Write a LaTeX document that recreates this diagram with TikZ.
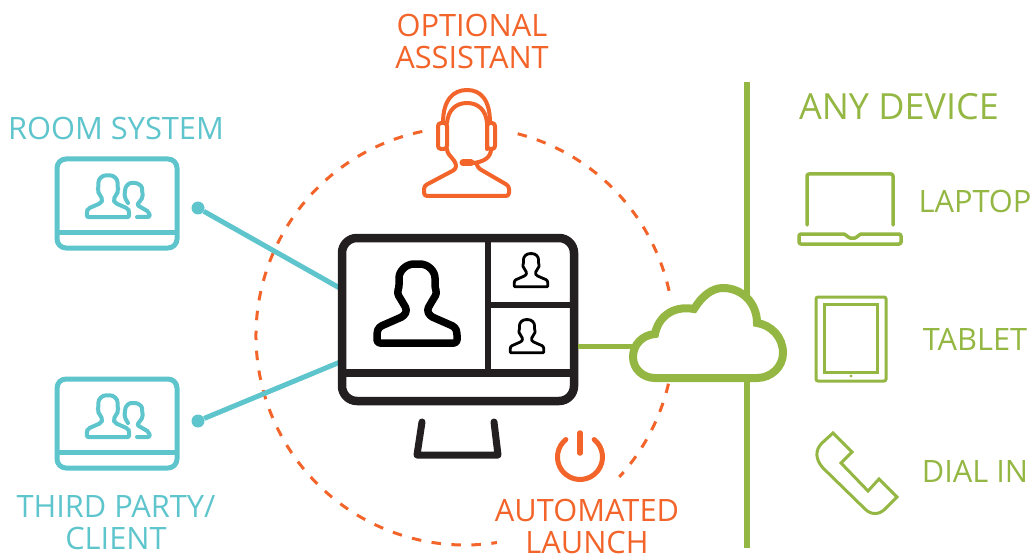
\documentclass[tikz,border=0pt]{standalone}
\usepackage{fontspec}
\setmainfont{Open Sans}
\usetikzlibrary{positioning}
\definecolor{tealc}{HTML}{5EC5CD}
\definecolor{orangec}{HTML}{F26429}
\definecolor{greenc}{HTML}{93B742}
\definecolor{darkc}{HTML}{231F20}
\newcommand{\personpath}{(18,-15) -- (20,-10) -- (14,0) -- (10,7) -- (13,13) -- (38,24) -- (40,29) -- (40,40) -- (-40,40) -- (-40,29) -- (-38,24) -- (-13,13) -- (-10,7) -- (-14,0) -- (-20,-10) -- (-18,-15) -- (-18,-22) .. controls (-18,-32) and (-11,-39) .. (0,-39) .. controls (11,-39) and (18,-32) .. (18,-22) -- cycle}
\newcommand{\roomicon}{%
    \draw[iconline, tealc, line width=5pt, rounded corners=9pt] (57,159) rectangle (177,248);
    \draw[tealc, line width=5pt] (57,232) -- (177,232);
    \draw[iconline, tealc, line width=4pt, rounded corners=2pt, shift={(108,196)}, scale=0.53] \personpath;
    \draw[iconline, tealc, line width=4pt, rounded corners=2pt] (128,203) -- (124.5,197) -- (125,190) .. controls (126,186) and (129,183) .. (133,183) .. controls (138,183) and (142,186) .. (142,190) -- (143,197) -- (137,205) -- (149,212) -- (150,217) -- (137,217);
}
\begin{document}
\begin{tikzpicture}[
        x=1pt, y=-1pt,
        iconline/.style={line cap=round, line join=round},
        caption/.style={align=center, font=\fontsize{30.8}{32}\selectfont, inner sep=0pt},
        ring/.style={orangec, line width=3pt, dash pattern=on 9.5pt off 10.5pt},
        link/.style={tealc, line width=5pt},
        dot/.style={circle, fill=tealc, minimum size=13pt, inner sep=0pt},
        screen/.style={draw=darkc, fill=white, line width=8.5pt, rounded corners=15pt, minimum width=232pt, minimum height=163pt}
    ]
    \useasboundingbox (0,0) rectangle (1033,556);

    % Dashed ring
    \coordinate (ringc) at (465,336);
    \draw[ring] (ringc) ++(75.4:209pt) arc[start angle=75.4, delta angle=-64.7, radius=209pt];
    \draw[ring] (ringc) ++(-13.2:209pt) arc[start angle=-13.2, delta angle=-29.2, radius=209pt];
    \draw[ring] (ringc) ++(101.8:209pt) arc[start angle=101.8, delta angle=177, radius=209pt];

    % Green axis
    \coordinate (axistop) at (747,82);
    \coordinate (axisbottom) at (747,548);
    \draw[greenc, line width=5.5pt] (axistop) -- (axisbottom);

    % Room systems
    \node[dot] (roomdot) at (198,208) {};
    \node[dot] (clientdot) at (198,421) {};
    \coordinate (screenup) at (345,291);
    \coordinate (screendown) at (345,360);
    \draw[link] (roomdot) -- (screenup);
    \draw[link] (clientdot) -- (screendown);
    \roomicon
    \begin{scope}[shift={(0,220)}]
        \roomicon
    \end{scope}
    \node[caption, text=tealc] (roomlabel) at (116,128) {ROOM SYSTEM};
    \node[caption, text=tealc] (clientlabel) at (116,522.5) {THIRD PARTY/\\CLIENT};

    % Monitor
    \node[screen] (monitor) at (458,319.5) {};
    \coordinate (cloudleft) at (635,346);
    \draw[greenc, line width=5pt] (monitor.east |- cloudleft) -- (cloudleft);
    \draw[darkc, line width=6.5pt] (488,238) -- (488,373);
    \draw[darkc, line width=6.5pt] (488,305) -- (574,305);
    \draw[darkc, line width=8pt] (342,373) -- (574,373);
    \draw[darkc, iconline, line width=7pt] (422,422) -- (417,455) -- (498,455) -- (494,422);
    \draw[iconline, black, line width=7.5pt, rounded corners=3pt, shift={(417,303)}] \personpath;
    \draw[iconline, black, line width=2.8pt, rounded corners=1pt, shift={(531,270)}, scale=0.42] \personpath;
    \draw[iconline, black, line width=2.8pt, rounded corners=1pt, shift={(527,336)}, scale=0.42] \personpath;

    % Assistant
    \draw[orangec, iconline, line width=4pt] (443,123) .. controls (443,100) and (453,90) .. (467,90) .. controls (481,90) and (490,100) .. (490,123);
    \draw[orangec, iconline, line width=4pt] (447,123) .. controls (448,110) and (456,103) .. (467,103) .. controls (478,103) and (486,110) .. (487,123) -- (487,149);
    \draw[orangec, iconline, line width=4pt, rounded corners=3pt] (438,123) rectangle (447,149);
    \draw[orangec, iconline, line width=4pt, rounded corners=3pt] (487,123) rectangle (495,149);
    \draw[orangec, iconline, line width=4pt, rounded corners=3pt] (447,149) -- (447,152) -- (456,163) -- (456,169) -- (424,186) -- (424,196) -- (509,196) -- (509,186) -- (478,168) -- (477,165);
    \draw[orangec, iconline, line width=4pt] (491,149) .. controls (491,158) and (483,162) .. (473,163);
    \draw[orangec, iconline, line width=7pt] (463,163) -- (471,163);
    \node[caption, text=orangec] (assistantlabel) at (472,41) {OPTIONAL\\ASSISTANT};

    % Power
    \draw[orangec, iconline, line width=5pt] (580,457) ++(51:22.5pt) arc[start angle=51, delta angle=-282, radius=22.5pt];
    \draw[orangec, iconline, line width=5.5pt] (580,433) -- (580,453);
    \node[caption, text=orangec] (launchlabel) at (587,526) {AUTOMATED\\LAUNCH};

    % Cloud
    \draw[greenc, fill=white, line width=8pt, line join=miter] (655,378) .. controls (643,378) and (633,369) .. (633,357) .. controls (633,345) and (642,335) .. (655,334) .. controls (658,318) and (672,305) .. (694,309) .. controls (702,296) and (712,288) .. (723,288) .. controls (742,288) and (757,303) .. (757,323) .. controls (771,325) and (783,337) .. (783,353) .. controls (783,367) and (771,378) .. (757,378) -- cycle;

    % Devices
    \node[font=\fontsize{36}{37}\selectfont, inner sep=0pt, text=greenc] (devicelabel) at (899,106.5) {ANY DEVICE};
    \draw[greenc, iconline, line width=3.5pt, rounded corners=2pt] (807,225) -- (807,174) -- (893,174) -- (893,225);
    \draw[greenc, iconline, line width=3.5pt, rounded corners=2pt] (799,234) -- (846,234) -- (848,238) -- (857,238) -- (859,234) -- (901,234) -- (901,244) -- (799,244) -- cycle;
    \node[caption, text=greenc] (laptoplabel) at (975,201.5) {LAPTOP};
    \draw[greenc, line width=3pt, rounded corners=2pt] (816,297) rectangle (886,381);
    \draw[greenc, line width=3pt] (824,304) rectangle (877,372);
    \fill[greenc] (851,376) circle[radius=1.6pt];
    \node[caption, text=greenc] (tabletlabel) at (975,339.5) {TABLET};
    \draw[greenc, line width=3pt, line join=miter] (833,433) -- (852,452) -- (841,463) -- (868,491) -- (879,479) -- (897,497) -- (885,509) .. controls (879,515) and (871,515) .. (865,509) -- (823,468) .. controls (815,459) and (815,450) .. (822,443) -- cycle;
    \node[caption, text=greenc] (diallabel) at (975,471.5) {DIAL IN};
\end{tikzpicture}
\end{document}
